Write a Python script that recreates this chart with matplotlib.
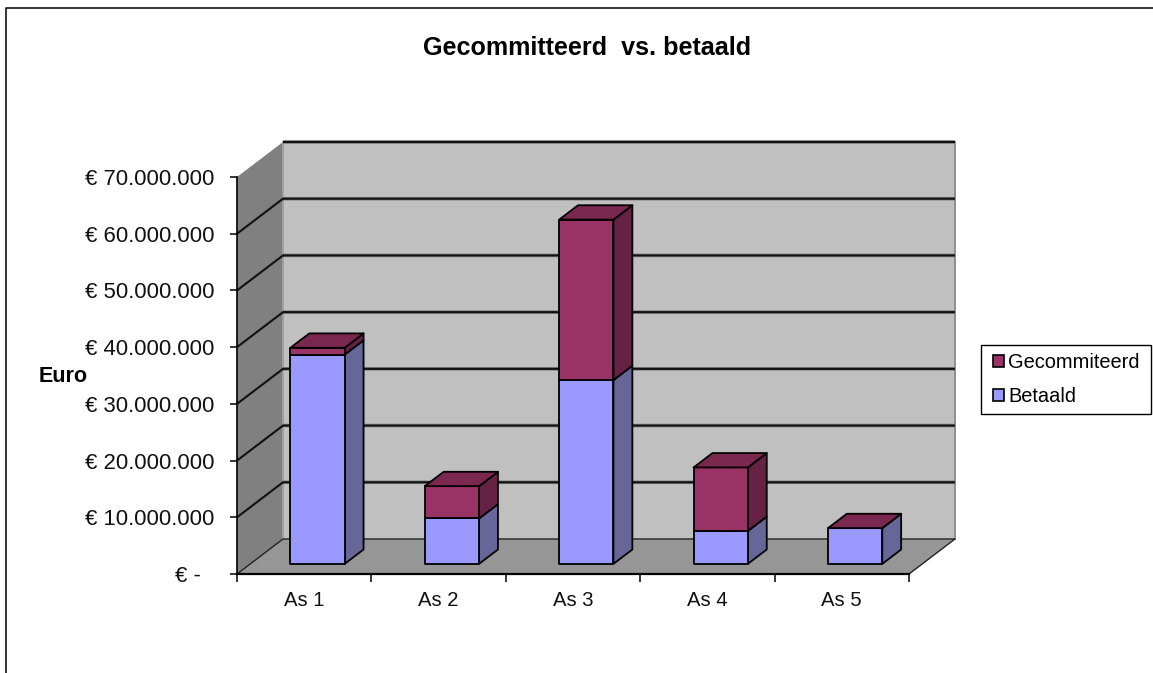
"""Recreate the pseudo-3D stacked column chart 'Gecommitteerd vs. betaald'."""

import matplotlib

matplotlib.use("Agg")
import matplotlib.pyplot as plt
import numpy as np
from matplotlib.lines import Line2D
from matplotlib.patches import Polygon, Rectangle
from matplotlib.transforms import ScaledTranslation

CATEGORIES = ["As 1", "As 2", "As 3", "As 4", "As 5"]
BETAALD = [36.9e6, 8.0e6, 32.4e6, 5.8e6, 6.3e6]
GECOMMITTEERD = [1.2e6, 5.7e6, 28.3e6, 11.2e6, 0.0]
Y_TICKS = [0, 10e6, 20e6, 30e6, 40e6, 50e6, 60e6, 70e6]
Y_LABELS = ["€ -", "€ 10.000.000", "€ 20.000.000", "€ 30.000.000",
            "€ 40.000.000", "€ 50.000.000", "€ 60.000.000", "€ 70.000.000"]

W, H = 1153, 673
# Shift of the back wall relative to the front plane, in data units.
DEPTH_X = 46 / 134.4
DEPTH_Y = 35 / 56.7 * 10e6
BAR_WIDTH = 0.404
BAR_FRONT = 0.29
BAR_BACK = 0.70

BLUE = ("#9999FF", "#666699", "#7A7ACC")
PURPLE = ("#993366", "#662244", "#7A2850")
FONT = "Liberation Sans"


def project(x, y, depth):
    return x + depth * DEPTH_X, y + depth * DEPTH_Y


def face(ax, points, color, edge="none", lw=0.0, zorder=2):
    ax.add_patch(Polygon([project(*p) for p in points], closed=True, facecolor=color,
                         edgecolor=edge, linewidth=lw, clip_on=False,
                         joinstyle="round", zorder=zorder))


def draw_walls(ax, n):
    top = Y_TICKS[-1]
    face(ax, [(0, 0, 1), (n, 0, 1), (n, top, 1), (0, top, 1)], "#C0C0C0")
    face(ax, [(0, 0, 0), (0, 0, 1), (0, top, 1), (0, top, 0)], "#808080")
    face(ax, [(0, 0, 0), (n, 0, 0), (n, 0, 1), (0, 0, 1)], "#969696")
    for y in Y_TICKS[1:]:
        # the top line only runs along the back wall
        start = 1 if y == top else 0
        xs, ys = zip(*[project(0, y, d) for d in (start, 1)], project(n, y, 1))
        ax.plot(xs, ys, color="#808080", lw=2.6, clip_on=False, zorder=2.1,
                solid_capstyle="butt")
        ax.plot(xs, ys, color="#111111", lw=1.5, clip_on=False, zorder=2.2,
                solid_capstyle="butt")
    # floor edges and the seam between the walls
    xs, ys = zip(project(0, 0, 0), project(0, 0, 1), project(n, 0, 1), project(n, 0, 0))
    ax.plot(xs, ys, color="#222222", lw=1.0, clip_on=False, zorder=2.2)
    ax.plot(*zip(project(0, 0, 1), project(0, top, 1)), color="#A0A0A0", lw=1.4,
            clip_on=False, zorder=2.05)
    ax.plot(*zip(project(n, 0, 1), project(n, top, 1)), color="#909090", lw=1.4,
            clip_on=False, zorder=2.05)


def draw_segment(ax, x0, x1, y0, y1, colors, zorder):
    front, side, _ = colors
    edge = dict(edge="#000000", lw=1.3, zorder=zorder)
    face(ax, [(x1, y0, BAR_FRONT), (x1, y0, BAR_BACK), (x1, y1, BAR_BACK), (x1, y1, BAR_FRONT)],
         side, **edge)
    face(ax, [(x0, y0, BAR_FRONT), (x1, y0, BAR_FRONT), (x1, y1, BAR_FRONT), (x0, y1, BAR_FRONT)],
         front, **edge)


def main():
    plt.rcParams["font.family"] = [FONT, "DejaVu Sans"]
    fig = plt.figure(figsize=(W / 100, H / 100), dpi=100, facecolor="white")
    ax = fig.add_axes([237 / W, (H - 574) / H, 672 / W, 397 / H], facecolor="none")
    n = len(CATEGORIES)
    ax.set_xlim(0, n)
    ax.set_ylim(0, Y_TICKS[-1])

    draw_walls(ax, n)

    for i in range(n):
        x0 = i + 0.5 - BAR_WIDTH / 2
        x1 = i + 0.5 + BAR_WIDTH / 2
        base = 3 + i * 0.01
        total = BETAALD[i] + GECOMMITTEERD[i]
        draw_segment(ax, x0, x1, 0, BETAALD[i], BLUE, base)
        if GECOMMITTEERD[i] > 0:
            draw_segment(ax, x0, x1, BETAALD[i], total, PURPLE, base + 0.002)
        face(ax, [(x0, total, BAR_FRONT), (x1, total, BAR_FRONT),
                  (x1, total, BAR_BACK), (x0, total, BAR_BACK)],
             PURPLE[2], edge="#000000", lw=1.3, zorder=base + 0.004)

    ax.set_yticks(Y_TICKS)
    ax.set_yticklabels(Y_LABELS, fontsize=15.9, color="#111111")
    ax.set_xticks(np.arange(n + 1))
    ax.set_xticklabels([])
    ax.set_xticks(np.arange(n) + 0.5, labels=CATEGORIES, minor=True)
    ax.tick_params(axis="x", which="minor", length=0, labelsize=14.6, pad=12,
                   labelcolor="#111111")
    ax.tick_params(axis="x", which="major", length=6, width=1.1)
    ax.tick_params(axis="y", length=5, width=1.1, pad=11)
    ax.spines["top"].set_visible(False)
    ax.spines["right"].set_visible(False)
    ax.spines["left"].set(linewidth=1.2, zorder=2.5)
    ax.spines["bottom"].set(linewidth=1.6, zorder=2.5)

    # the zero label sits further left than the others in the reference
    zero_label = ax.get_yticklabels()[0]
    zero_label.set_transform(zero_label.get_transform()
                             + ScaledTranslation(-14 / 100, 0, fig.dpi_scale_trans))

    fig.text(587 / W, 1 - 48 / H, "Gecommitteerd  vs. betaald", ha="center", va="center",
             fontsize=18.1, fontweight="bold", color="#000000")
    fig.text(63 / W, 1 - 377 / H, "Euro", ha="center", va="center",
             fontsize=15.5, fontweight="bold", color="#000000")

    # legend frame drawn apart so its width and height can be set independently
    fig.add_artist(Rectangle((981 / W, 1 - 414 / H), 170 / W, 69 / H, facecolor="white",
                             edgecolor="black", linewidth=1.0, transform=fig.transFigure))
    handles = [Rectangle((0, 0), 1, 1, facecolor=PURPLE[0], edgecolor="black", linewidth=1.2),
               Rectangle((0, 0), 1, 1, facecolor=BLUE[0], edgecolor="black", linewidth=1.2)]
    fig.legend(handles, ["Gecommiteerd", "Betaald"], loc="upper left",
               bbox_to_anchor=(985 / W, 1 - 345 / H), borderaxespad=0,
               fontsize=14.4, frameon=False, handlelength=0.56, handleheight=0.56,
               handletextpad=0.2, labelspacing=0.75, borderpad=0.4)

    # outer chart border, cut off by the image on the right and at the bottom
    fig.add_artist(Line2D([5.5 / W, 5.5 / W, 1], [0, 1 - 7.5 / H, 1 - 7.5 / H],
                          color="black", lw=1.1, transform=fig.transFigure))

    fig.savefig("out.png", dpi=100, facecolor="white")


if __name__ == "__main__":
    main()
